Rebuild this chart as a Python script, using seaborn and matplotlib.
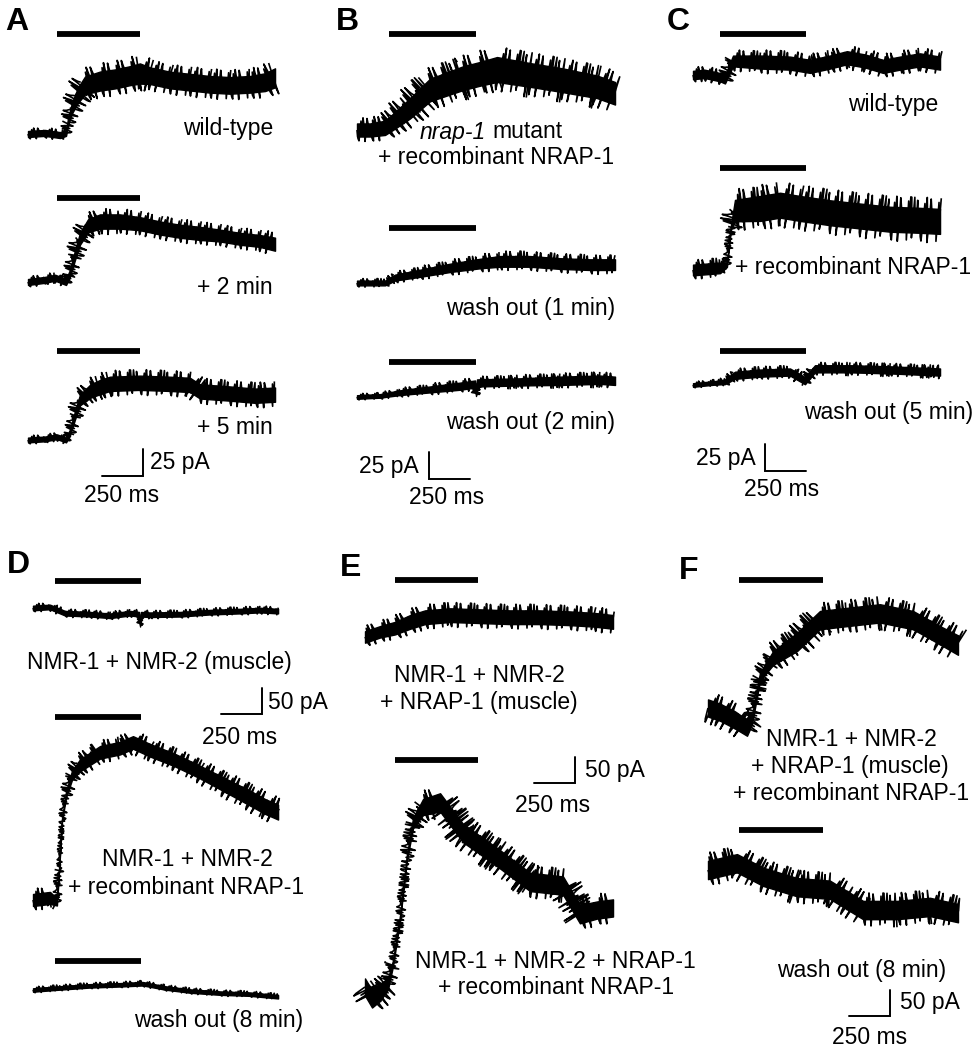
import matplotlib
matplotlib.use("Agg")
import matplotlib.pyplot as plt
import pandas as pd
import seaborn as sns

sns.set_style("white")
plt.rcParams["font.family"] = ["Liberation Sans", "DejaVu Sans"]
plt.rcParams["text.color"] = "black"

# ---- data: time (ms), current (pA, relative to baseline), noise half-amplitude (pA)
# panel A (wild-type, 25 pA scale)
a_stim = [177, 683]
a1_t = [0, 104, 195, 232, 244, 268, 305, 348, 439, 531, 622, 683, 744, 866, 988, 1110, 1232, 1354, 1446, 1507]
a1_i = [0, 1, -1, 1, 11, 24, 36, 45, 49, 51, 54, 56, 54, 50, 48, 46, 45, 46, 48, 52]
a1_n = [5, 5, 5, 5, 6, 9, 13, 15, 16, 16, 16, 17, 14, 14, 14, 14, 14, 14, 15, 16]
a2_t = [0, 104, 165, 232, 256, 287, 317, 366, 439, 561, 683, 805, 927, 1049, 1171, 1293, 1415, 1507]
a2_i = [0, 2, 4, 0, 8, 25, 40, 52, 56, 56, 54, 50, 47, 45, 43, 40, 38, 35]
a2_n = [5, 5, 5, 5, 6, 8, 10, 11, 12, 12, 11, 11, 11, 11, 10, 10, 10, 11]
a3_t = [0, 104, 177, 232, 256, 287, 317, 378, 439, 500, 683, 866, 988, 1049, 1232, 1385, 1507]
a3_i = [0, 1, 3, 0, 7, 23, 37, 45, 49, 52, 53, 52, 51, 45, 43, 41, 42]
a3_n = [4, 4, 4, 4, 5, 7, 9, 11, 12, 12, 12, 12, 12, 12, 12, 12, 12]

# panel B (nrap-1 mutant)
b_stim = [195, 726]
b1_t = [0, 79, 171, 232, 323, 445, 647, 750, 854, 1055, 1257, 1464, 1574]
b1_i = [0, 0, 2, 9, 20, 37, 48, 52, 56, 51, 46, 40, 34]
b1_n = [11, 11, 12, 14, 17, 19, 20, 20, 21, 20, 20, 19, 19]
b2_t = [0, 171, 232, 384, 567, 750, 872, 1055, 1238, 1421, 1574]
b2_i = [0, 0, 5, 9, 14, 18, 20, 20, 18, 17, 17]
b2_n = [4, 4, 5, 6, 7, 8, 9, 9, 9, 9, 9]
b3_t = [0, 140, 262, 445, 628, 720, 726, 732, 994, 1238, 1482, 1574]
b3_i = [0, 1, 4, 7, 10, 12, 2, 13, 14, 15, 16, 15]
b3_n = [3, 3, 4, 5, 6, 6, 2, 6, 6, 7, 7, 7]

# panel C (wild-type)
c_stim = [165, 689]
c1_t = [0, 73, 165, 195, 244, 409, 592, 714, 836, 939, 1049, 1159, 1263, 1385, 1507]
c1_i = [0, 1, -2, -4, 13, 12, 11, 8, 12, 16, 13, 8, 11, 14, 11]
c1_n = [7, 7, 7, 7, 9, 11, 11, 11, 11, 11, 11, 11, 11, 11, 11]
c2_t = [0, 165, 207, 232, 256, 409, 531, 653, 836, 1019, 1202, 1385, 1507]
c2_i = [0, 2, 5, 40, 55, 57, 60, 57, 53, 50, 47, 46, 45]
c2_n = [9, 9, 4, 4, 18, 21, 21, 21, 21, 21, 21, 21, 21]
c3_t = [0, 134, 195, 256, 409, 592, 683, 744, 958, 1202, 1507]
c3_i = [0, 2, 3, 9, 11, 12, 4, 15, 15, 14, 12]
c3_n = [3, 3, 4, 6, 6, 6, 6, 6, 6, 6, 6]

# panel D (50 pA scale)
d_stim = [134, 659]
d1_t = [0, 104, 195, 348, 470, 592, 647, 653, 659, 714, 897, 1080, 1263, 1385, 1495]
d1_i = [0, 2, -10, -12, -15, -10, -12, -34, -12, -13, -12, -8, -6, -4, -6]
d1_n = [8, 8, 8, 8, 8, 8, 8, 3, 8, 8, 8, 8, 8, 8, 8]
d2_t = [0, 104, 146, 159, 177, 201, 238, 287, 409, 531, 610, 714, 866, 1019, 1171, 1324, 1415, 1495]
d2_i = [0, 4, -4, 58, 154, 202, 240, 259, 284, 292, 303, 288, 269, 246, 221, 196, 180, 169]
d2_n = [21, 21, 12, 5, 5, 10, 16, 21, 22, 22, 22, 22, 22, 22, 24, 26, 26, 26]
d3_t = [0, 165, 348, 531, 671, 805, 958, 1141, 1324, 1495]
d3_i = [0, 4, 8, 10, 12, 4, -2, -6, -8, -13]
d3_n = [6, 6, 6, 6, 6, 6, 6, 6, 6, 6]

# panel E
e_stim = [183, 689]
e1_t = [0, 92, 183, 275, 366, 519, 702, 885, 1068, 1251, 1403, 1513]
e1_i = [0, 10, 17, 29, 38, 42, 40, 38, 38, 36, 33, 29]
e1_n = [20, 20, 22, 24, 24, 24, 24, 24, 24, 24, 24, 24]
e2_t = [0, 43, 92, 140, 171, 214, 256, 293, 354, 458, 598, 805, 1007, 1208, 1311, 1415, 1513]
e2_i = [0, -23, -10, 6, 46, 134, 250, 315, 346, 355, 296, 250, 202, 195, 140, 148, 152]
e2_n = [30, 30, 30, 20, 10, 8, 10, 18, 28, 32, 32, 32, 32, 32, 32, 30, 30]

# panel F
f_stim = [189, 702]
f1_t = [0, 73, 165, 238, 268, 317, 397, 543, 683, 848, 1049, 1251, 1415, 1525]
f1_i = [0, -8, -23, -38, -23, 60, 96, 127, 169, 175, 182, 169, 140, 121]
f1_n = [30, 30, 30, 28, 16, 14, 24, 32, 32, 32, 32, 32, 32, 34]
f2_t = [0, 177, 336, 543, 744, 848, 946, 1153, 1354, 1525]
f2_i = [0, 13, -13, -33, -38, -58, -77, -77, -71, -83]
f2_n = [32, 32, 32, 32, 32, 32, 32, 32, 32, 32]

# ---- layout (figure pixels)
W, H = 980, 1050
MS_PER_PX = 6.1
PA_PX_SMALL = 25 / 27.0   # pA per pixel, panels A-C
PA_PX_LARGE = 50 / 26.0   # pA per pixel, panels D-F
NOISE_K = 1.05
CORE_K = 0.55

fig = plt.figure(figsize=(W / 100, H / 100), dpi=100)


def trace_axes(x0, y0, papp):
    """Axes whose data origin (0 ms, 0 pA) sits at figure pixel (x0, y0)."""
    left_ms, right_ms = 400, 1800
    up_px, down_px = 300, 120
    ax = fig.add_axes([(x0 - left_ms / MS_PER_PX) / W, 1 - (y0 + down_px) / H,
                       (left_ms + right_ms) / MS_PER_PX / W, (up_px + down_px) / H])
    ax.set_axis_off()
    ax.patch.set_alpha(0)
    return ax


def draw_trace(ax, t, cur, noise, papp):
    lo = [c - CORE_K * n for c, n in zip(cur, noise)]
    hi = [c + CORE_K * n for c, n in zip(cur, noise)]
    ax.fill_between(t, lo, hi, color="black", lw=1.0)
    rows = []
    for k in range(len(t) - 1):
        rows.append((t[k], cur[k], k))
        rows.append((t[k + 1], cur[k + 1], k))
    df = pd.DataFrame(rows, columns=["t", "I", "seg"])
    n0 = len(ax.lines)
    sns.lineplot(data=df, x="t", y="I", units="seg", estimator=None, sort=False,
                 color="black", lw=1.2, ax=ax, legend=False)
    for k, line in enumerate(ax.lines[n0:]):
        amp = 0.5 * (noise[k] + noise[k + 1]) / papp * NOISE_K
        line.set_sketch_params(scale=amp, length=0.7, randomness=12)
        line.set_solid_capstyle("butt")


def panel_trace(x0, base, bar_row, stim, t, cur, noise, papp):
    ax = trace_axes(x0, base, papp)
    draw_trace(ax, t, cur, noise, papp)
    ax.plot(stim, [(base - bar_row) * papp] * 2, color="black", lw=4.2,
            solid_capstyle="butt")
    ax.set_xlim(-400, 1800)
    ax.set_ylim(-120 * papp, 300 * papp)


def scale_bar(xc, yc, papp, amp, mirror=False):
    ax = trace_axes(xc, yc, papp)
    sx = 1 if mirror else -1
    ax.plot([sx * 250, 0, 0], [0, 0, amp], color="black", lw=1.4,
            solid_joinstyle="miter")
    ax.set_xlim(-400, 1800)
    ax.set_ylim(-120 * papp, 300 * papp)


def label(x, y, s, ha="center", **kw):
    fig.text(x / W, 1 - y / H, s, ha=ha, va="center", fontsize=16.5,
             color="black", **kw)


# panel A
panel_trace(28, 134, 34, a_stim, a1_t, a1_i, a1_n, PA_PX_SMALL)
panel_trace(28, 282, 198, a_stim, a2_t, a2_i, a2_n, PA_PX_SMALL)
panel_trace(28, 440, 351, a_stim, a3_t, a3_i, a3_n, PA_PX_SMALL)
scale_bar(143, 476, PA_PX_SMALL, 25)
# panel B
panel_trace(357, 130, 34, b_stim, b1_t, b1_i, b1_n, PA_PX_SMALL)
panel_trace(357, 283, 228, b_stim, b2_t, b2_i, b2_n, PA_PX_SMALL)
panel_trace(357, 397, 362, b_stim, b3_t, b3_i, b3_n, PA_PX_SMALL)
scale_bar(429, 479, PA_PX_SMALL, 25, mirror=True)
# panel C
panel_trace(693, 75, 34, c_stim, c1_t, c1_i, c1_n, PA_PX_SMALL)
panel_trace(693, 270, 168, c_stim, c2_t, c2_i, c2_n, PA_PX_SMALL)
panel_trace(693, 385, 351, c_stim, c3_t, c3_i, c3_n, PA_PX_SMALL)
scale_bar(765, 471, PA_PX_SMALL, 25, mirror=True)
# panel D
panel_trace(33, 608, 581, d_stim, d1_t, d1_i, d1_n, PA_PX_LARGE)
panel_trace(33, 900, 717, d_stim, d2_t, d2_i, d2_n, PA_PX_LARGE)
panel_trace(33, 990, 961, d_stim, d3_t, d3_i, d3_n, PA_PX_LARGE)
scale_bar(262, 714, PA_PX_LARGE, 50)
# panel E
panel_trace(365, 637, 580, e_stim, e1_t, e1_i, e1_n, PA_PX_LARGE)
panel_trace(365, 987, 760, e_stim, e2_t, e2_i, e2_n, PA_PX_LARGE)
scale_bar(575, 783, PA_PX_LARGE, 50)
# panel F
panel_trace(708, 708, 580, f_stim, f1_t, f1_i, f1_n, PA_PX_LARGE)
panel_trace(708, 870, 830, f_stim, f2_t, f2_i, f2_n, PA_PX_LARGE)
scale_bar(890, 1016, PA_PX_LARGE, 50)

# panel letters
for ch, x, y in [("A", 17, 22), ("B", 347, 22), ("C", 678, 22),
                 ("D", 18, 565), ("E", 351, 568), ("F", 689, 571)]:
    fig.text(x / W, 1 - y / H, ch, ha="center", va="center",
             fontsize=23, fontweight="bold", color="black")

# labels
label(273, 129, "wild-type", ha="right")
label(273, 287, "+ 2 min", ha="right")
label(273, 427, "+ 5 min", ha="right")
label(150, 462, "25 pA", ha="left")
label(122, 496, "250 ms")

label(486, 132, "nrap-1", ha="right", style="italic")
label(492, 132, "mutant", ha="left")
label(496, 157, "+ recombinant NRAP-1")
label(615, 308, "wash out (1 min)", ha="right")
label(615, 423, "wash out (2 min)", ha="right")
label(419, 466, "25 pA", ha="right")
label(447, 497, "250 ms")

label(938, 104, "wild-type", ha="right")
label(735, 268, "+ recombinant NRAP-1", ha="left")
label(973, 413, "wash out (5 min)", ha="right")
label(756, 458, "25 pA", ha="right")
label(782, 489, "250 ms")

label(159, 662, "NMR-1 + NMR-2 (muscle)")
label(268, 703, "50 pA", ha="left")
label(240, 737, "250 ms")
label(187, 860, "NMR-1 + NMR-2")
label(186, 887, "+ recombinant NRAP-1")
label(303, 1020, "wash out (8 min)", ha="right")

label(479, 675, "NMR-1 + NMR-2")
label(479, 702, "+ NRAP-1 (muscle)")
label(585, 771, "50 pA", ha="left")
label(553, 805, "250 ms")
label(555, 962, "NMR-1 + NMR-2 + NRAP-1")
label(556, 988, "+ recombinant NRAP-1")

label(851, 740, "NMR-1 + NMR-2")
label(850, 767, "+ NRAP-1 (muscle)")
label(851, 793, "+ recombinant NRAP-1")
label(862, 970, "wash out (8 min)")
label(900, 1003, "50 pA", ha="left")
label(870, 1037, "250 ms")

fig.savefig("out.png", dpi=100, facecolor="white")
